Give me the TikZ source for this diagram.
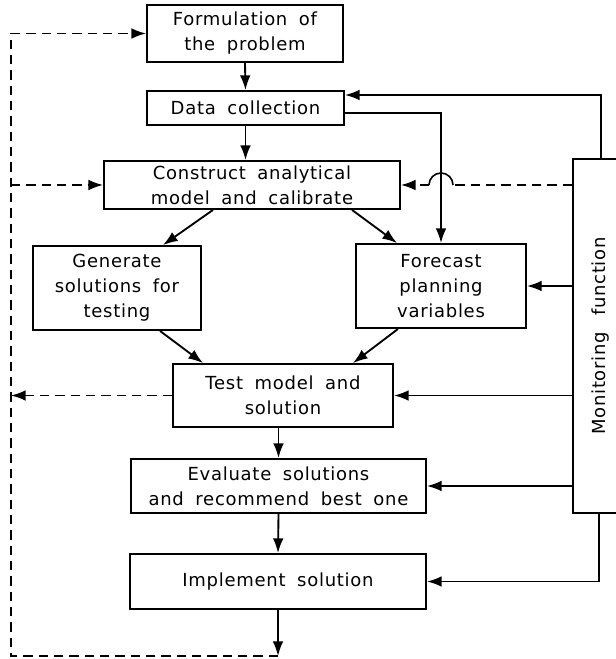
\documentclass[tikz,border=0pt]{standalone}
\usepackage{fontspec}
\usepackage{graphicx}
\setmainfont{DejaVu Sans}[LetterSpace=4,WordSpace=1.8]
\usetikzlibrary{arrows.meta,calc}

\tikzset{
  box/.style n args={2}{draw, line width=1.4pt, align=center, inner sep=0pt,
    minimum width=#1*0.75pt, minimum height=#2*0.75pt,
    font=\fontsize{13.5}{18.75}\selectfont},
  tip/.style={-{Latex[length=11pt,width=8pt]}},
  flow/.style={line width=1.4pt, tip},
  fb/.style={line width=1.2pt, dash pattern=on 7pt off 4.5pt},
  fbarr/.style={fb, tip},
}

\begin{document}
\begin{tikzpicture}[x=0.75pt,y=-0.75pt]
\useasboundingbox (0,0) rectangle (615,659);

% planning steps
\node[box={196}{57}]  (form) at (245,33.5)  {Formulation of\\the problem};
\node[box={197}{34}]  (data) at (245.5,108) {Data collection};
\node[box={296}{48}]  (cons) at (252,185)   {Construct analytical\\model and calibrate};
\node[box={168}{84}]  (gen)  at (117,288)   {Generate\\solutions for\\testing};
\node[box={170}{84}]  (fore) at (441,286)   {Forecast\\planning\\variables};
\node[box={220}{63}]  (test) at (283,395.5) {Test model and\\solution};
\node[box={295}{54}]  (eval) at (278.5,486) {Evaluate solutions\\and recommend best one};
\node[box={296}{55}]  (impl) at (278,581.5) {Implement solution};

% monitoring function (runs off the right edge)
\node[box={56}{354}]  (mon)  at (601,336)
  {\rotatebox{90}{Monitoring\hspace{0.9em}function}};

% main flow
\draw[flow] (form.south) -- (data.north);
\draw[flow] (data.south) -- (data.south |- cons.north);
\draw[flow] ($(cons.south)+(-39,0)$) -- ($(gen.north)+(46,0)$);
\draw[flow] ($(cons.south)+(100,0)$) -- ($(fore.north)+(-44,0)$);
\draw[flow] ($(gen.south)+(43,0)$) -- ($(test.north)+(-80,0)$);
\draw[flow] ($(fore.south)+(-43,0)$) -- ($(test.north)+(70,0)$);
\draw[flow] (eval.north |- test.south) -- (eval.north);
\draw[flow] (eval.south) -- (impl.north);
\draw[flow] ($(data.east)+(0,5)$) -| (fore.north);

% monitoring feedback
\draw[flow] (mon.north) |- ($(data.east)+(0,-13)$);
\draw[flow] (mon.west |- fore.east) -- (fore.east);
\draw[flow] (mon.west |- test.east) -- (test.east);
\draw[flow] (mon.west |- eval.east) -- (eval.east);
\draw[flow] ($(mon.south)+(-2,0)$) |- (impl.east);

% dashed feedback to calibration, hopping over the data line
\coordinate (hop) at (fore.north |- cons.east);
\coordinate (hopR) at ($(hop)+(12,0)$);
\coordinate (hopL) at ($(hop)+(-12,0)$);
\draw[fb] (mon.west |- cons.east) -- (hopR);
\draw[line width=1.2pt] (hopR) arc[start angle=0, end angle=-180, radius=12];
\draw[fbarr] (hopL) -- (cons.east);

% review loop
\coordinate (lb)   at (11,656);
\coordinate (bot)  at (impl.south |- lb);
\coordinate (ltop) at (lb |- form.west);
\draw[flow] (impl.south) -- (bot);
\draw[fb] (bot) -- (lb) -- (ltop);
\draw[fbarr] (ltop) -- (form.west);
\draw[fbarr] (lb |- cons.west) -- (cons.west);
\draw[fbarr] (test.west) -- (lb |- test.west);
\end{tikzpicture}
\end{document}
